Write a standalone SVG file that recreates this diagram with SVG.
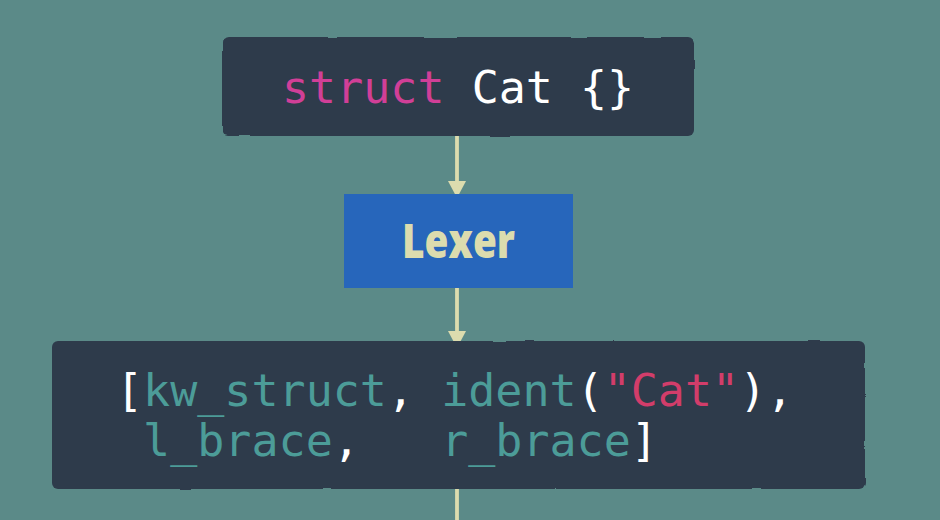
<svg xmlns="http://www.w3.org/2000/svg" width="940" height="520" viewBox="0 0 940 520">
  <defs>
    <filter id="rough" x="-5%" y="-10%" width="110%" height="120%">
      <feTurbulence type="fractalNoise" baseFrequency="0.035" numOctaves="1" seed="3" result="n"/>
      <feDisplacementMap in="SourceGraphic" in2="n" scale="3" xChannelSelector="R" yChannelSelector="G"/>
    </filter>
    <marker id="arr" viewBox="0 0 17 18" refX="17" refY="9" markerWidth="17" markerHeight="18" markerUnits="userSpaceOnUse" orient="auto">
      <path d="M0,0 L17,9 L0,18 Z" fill="#dcdcae"/>
    </marker>
    <style>
      .code { fill: #2e3b4c; filter: url(#rough); }
      .mono { font-family: "DejaVu Sans Mono", "Liberation Mono", monospace; font-size: 45px; white-space: pre; }
      .kw { fill: #d13f97; }
      .wh { fill: #ffffff; }
      .tok { fill: #4c9c98; }
      .str { fill: #d23d6a; }
      .edge { stroke: #dcdcae; stroke-width: 3.8; fill: none; }
    </style>
  </defs>
  <rect width="940" height="520" fill="#5b8a88"/>
  <g id="connectors">
    <line class="edge" x1="457" y1="133" x2="457" y2="198" marker-end="url(#arr)"/>
    <line class="edge" x1="457" y1="288" x2="457" y2="348" marker-end="url(#arr)"/>
    <line class="edge" x1="457" y1="488" x2="457" y2="520"/>
  </g>
  <g id="source">
    <rect class="code" x="222" y="37" width="472" height="99" rx="6"/>
    <text class="mono" x="282" y="103"><tspan class="kw">struct</tspan><tspan class="wh"> Cat {}</tspan></text>
  </g>
  <g id="lexer">
    <rect x="344" y="194" width="229" height="94" fill="#2766bb"/>
    <text x="458.5" y="258" text-anchor="middle" font-family="'Open Sans', 'Noto Sans', sans-serif" font-weight="800" font-size="48" textLength="113" lengthAdjust="spacingAndGlyphs" fill="#dcdcae">Lexer</text>
  </g>
  <g id="tokens">
    <rect class="code" x="52" y="341" width="813" height="148" rx="6"/>
    <text class="mono" x="116" y="406"><tspan class="wh">[</tspan><tspan class="tok">kw_struct</tspan><tspan class="wh">, </tspan><tspan class="tok">ident</tspan><tspan class="wh">(</tspan><tspan class="str">"Cat"</tspan><tspan class="wh">),</tspan></text>
    <text class="mono" x="116" y="456"><tspan class="wh"> </tspan><tspan class="tok">l_brace</tspan><tspan class="wh">,   </tspan><tspan class="tok">r_brace</tspan><tspan class="wh">]</tspan></text>
  </g>
</svg>
